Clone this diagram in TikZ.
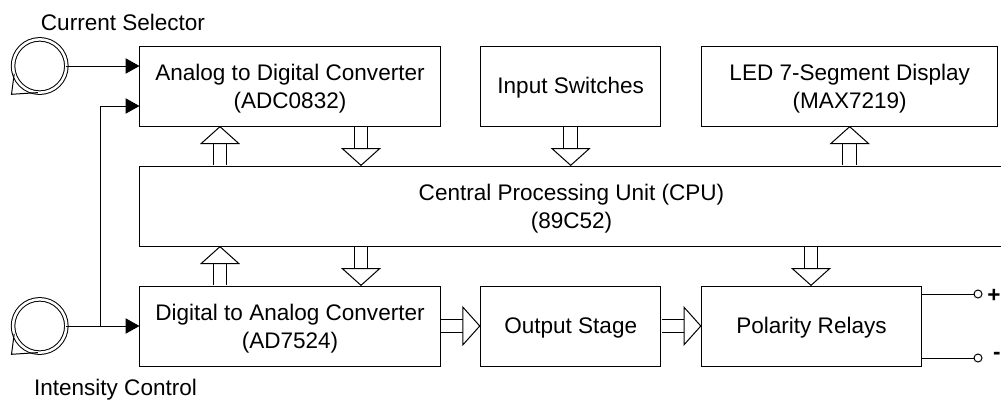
\documentclass[tikz,border=0pt]{standalone}
\usepackage{fontspec}
\setmainfont{Liberation Sans}
\usetikzlibrary{arrows.meta}

\begin{document}
\begin{tikzpicture}[x=0.75pt,y=-0.75pt,line width=0.75pt,font=\fontsize{16.9}{21}\selectfont]
\tikzstyle{block}=[rectangle,draw,align=center,inner sep=0pt,outer sep=0pt,minimum height=60pt,execute at begin node={\rule{0pt}{15.5pt}}]
\tikzstyle{twolines}=[block,execute at begin node={\rule{0pt}{36.5pt}}]
\tikzstyle{knob}=[circle,draw,double,double distance=1.9pt,minimum size=40pt,inner sep=0pt,outer sep=0pt]
\tikzstyle{terminal}=[circle,draw,fill=white,minimum size=6pt,inner sep=0pt,outer sep=0pt]
\tikzstyle{label}=[inner sep=0pt]
\tikzstyle{wire}=[-{Triangle[length=10.5pt,width=11.5pt]}]
\tikzstyle{bus}=[double,double distance=9.4pt,shorten <=0.4pt,-{Triangle[length=13.5pt,width=30pt,fill=white,line width=0.75pt]}]
\useasboundingbox (0,0) rectangle (1001,400);
% top row
\node [twolines,minimum width=225.75pt] (adc) at (290,86) {Analog to Digital Converter\\(ADC0832)};
\node [block,minimum width=135.4pt] (switches) at (570.7,86) {Input Switches};
\node [twolines,minimum width=222.4pt] (led) at (849.7,86) {LED 7-Segment Display\\(MAX7219)};
% cpu runs off the page
\node [twolines,minimum width=648pt] (cpu) at (571.5,206) {Central Processing Unit (CPU)\\(89C52)};
% bottom row
\node [twolines,minimum width=225.75pt] (dac) at (290,326) {Digital to Analog Converter\\(AD7524)};
\node [block,minimum width=135.4pt] (output) at (570.7,326) {Output Stage};
\node [block,minimum width=165pt] (relays) at (811.5,326) {Polarity Relays};
% knobs
\node [knob] (selector) at (39.7,66) {};
\node [knob] (intensity) at (39.7,326) {};
\foreach \knob in {selector,intensity}
  \draw (\knob.197) -- ++(-2.7,20.5) -- (\knob.266);
\node [label] (selectorlabel) at (123,22) {Current Selector};
\node [label] (intensitylabel) at (115.5,390) {Intensity Control};
% outputs
\node [terminal] (plus) at (978,294) {};
\node [terminal] (minus) at (978,358) {};
\node [label,anchor=east] (plustext) at (1001,296) {\textbf{+}};
\node [label,anchor=east] (minustext) at (1001,356) {\textbf{-}};
\draw (plus -| relays.east) -- (plus);
\draw (minus -| relays.east) -- (minus);
% analog inputs
\coordinate (adclow) at (139.5,106);
\coordinate (branch) at (100,326);
\draw [wire] (selector) -- (selector -| adc.west);
\draw [wire] (intensity) -- (dac.west);
\draw [wire] (branch) -- (branch |- adclow) -- (adclow);
% buses
\coordinate (xa) at (220,0);
\coordinate (xb) at (361,0);
\coordinate (xc) at (811,0);
\draw [bus] (xa |- cpu.north) -- (xa |- adc.south);
\draw [bus] (xb |- adc.south) -- (xb |- cpu.north);
\draw [bus] (switches.south) -- (switches.south |- cpu.north);
\draw [bus] (led.south |- cpu.north) -- (led.south);
\draw [bus] (xa |- dac.north) -- (xa |- cpu.south);
\draw [bus] (xb |- cpu.south) -- (xb |- dac.north);
\draw [bus] (xc |- cpu.south) -- (xc |- relays.north);
\draw [bus] (dac.east) -- (output.west);
\draw [bus] (output.east) -- (relays.west);
\end{tikzpicture}
\end{document}
